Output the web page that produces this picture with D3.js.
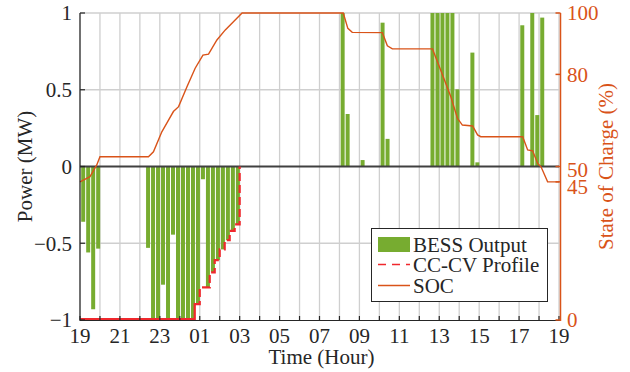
<!DOCTYPE html>
<html>
<head>
<meta charset="UTF-8">
<title>BESS output and SOC</title>
<script src="https://cdn.jsdelivr.net/npm/d3@7"></script>
<style>
  body { margin: 0; background: #fff; }
  text { font-family: "Liberation Serif", "Times New Roman", serif; }
</style>
</head>
<body>
<div id="chart"></div>
<script>
// hours counted from 19:00, one slot = 15 min
const tickHours = [0, 2, 4, 6, 8, 10, 12, 14, 16, 18, 20, 22, 24];
const tickLabels = ["19", "21", "23", "01", "03", "05", "07", "09", "11", "13", "15", "17", "19"];

// BESS output (MW), only slots that are not zero
const bessSlot = [0, 1, 2, 3, 13, 14, 15, 16, 17, 18, 19, 20, 21, 22, 23, 24, 25, 26, 27, 28, 29, 30, 31,
                  52, 53, 56, 60, 61, 70, 71, 72, 73, 74, 75, 78, 79, 88, 90, 91, 92];
const bessMW = [-0.36, -0.56, -0.93, -0.535, -0.53, -1, -1, -0.77, -1, -0.444, -1, -1, -1, -1, -0.896, -0.083,
                -0.787, -0.69, -0.61, -0.54, -0.48, -0.42, -0.377,
                1, 0.342, 0.042, 0.937, 0.18, 1, 1, 1, 1, 1, 0.503, 0.742, 0.027, 0.92, 1, 0.335, 0.97];

// CC-CV profile (MW), step values
const ccTime = [0, 5.75, 6.0, 6.5, 6.75, 7.0, 7.25, 7.5, 7.75, 8.0];
const ccMW = [-1, -0.896, -0.787, -0.69, -0.61, -0.54, -0.48, -0.42, -0.377, 0];

// state of charge (%)
const socTime = [0, 0.5, 0.84, 1.0, 3.43, 3.68, 4.10, 4.35, 4.68, 4.94, 5.36, 5.77, 6.16, 6.44, 6.86, 7.28, 7.70, 8.12,
                 13.19, 13.42, 13.64, 15.15, 15.40, 15.65, 17.66, 18.07, 18.58, 18.91, 19.16, 19.67, 19.92, 20.08,
                 22.18, 22.43, 22.68, 22.93, 23.1, 23.43, 24];
const socPct = [45, 46.7, 50.5, 53.2, 53.2, 54.8, 61.3, 64.1, 67.9, 69.5, 76.0, 82.0, 86.3, 86.6, 91.2, 94.5, 97.2, 100,
                100, 95.0, 93.7, 93.6, 89.3, 88.3, 88.3, 81.4, 72.7, 65.7, 63.5, 63.2, 60.3, 59.7,
                59.7, 55.4, 55.1, 51.0, 49.9, 45, 45];

const leftTicks = [-1, -0.5, 0, 0.5, 1];
const rightTicks = [0, 45, 50, 80, 100];

const width = 630, height = 372;
const pl = 80, pr = 559, pt = 13, pb = 320;
const green = "#77AC30", orange = "#D95319", red = "#F0282D", ink = "#262626";

const x = d3.scaleLinear().domain([0, 24]).range([pl, pr]);
const xb = d3.scaleBand().domain(d3.range(96)).range([pl + 0.7, pr + 0.7]).paddingInner(0.2).paddingOuter(0.1);
const y = d3.scaleLinear().domain([-1, 1]).range([pb, pt]);
const yr = d3.scaleLinear().domain([0, 100]).range([pb, pt]);

const svg = d3.select("#chart").append("svg")
  .attr("width", width).attr("height", height);

// grid
svg.append("g").selectAll("line").data(d3.range(0, 25))
  .join("line")
  .attr("x1", d => x(d)).attr("x2", d => x(d))
  .attr("y1", pt).attr("y2", pb)
  .attr("stroke", "#cfcfcf").attr("stroke-width", 1.3);
svg.append("g").selectAll("line").data([-0.5, 0.5, 1])
  .join("line")
  .attr("x1", pl).attr("x2", pr)
  .attr("y1", d => y(d)).attr("y2", d => y(d))
  .attr("stroke", "#cfcfcf").attr("stroke-width", 1.3);

// bars
svg.append("g").selectAll("rect").data(bessSlot)
  .join("rect")
  .attr("x", d => xb(d))
  .attr("width", xb.bandwidth())
  .attr("y", (d, i) => y(Math.max(0, bessMW[i])))
  .attr("height", (d, i) => Math.abs(y(bessMW[i]) - y(0)))
  .attr("fill", green);

// zero line
svg.append("line")
  .attr("x1", pl).attr("x2", pr)
  .attr("y1", y(0)).attr("y2", y(0))
  .attr("stroke", "#404040").attr("stroke-width", 2);

// CC-CV profile
const ccPts = ccTime.map((t, i) => [t, ccMW[i]]);
const stepLine = d3.line().x(d => x(d[0])).y(d => y(d[1])).curve(d3.curveStepAfter);
svg.append("path")
  .attr("d", stepLine(ccPts.slice(0, 2)))
  .attr("fill", "none").attr("stroke", red).attr("stroke-width", 2.2)
  .attr("transform", "translate(0,-1)");
svg.append("path")
  .attr("d", stepLine(ccPts.slice(1)))
  .attr("fill", "none").attr("stroke", red).attr("stroke-width", 2.2)
  .attr("stroke-dasharray", "8,4");

// SOC
svg.append("path")
  .attr("d", d3.line().x((t) => x(t)).y((t, i) => yr(socPct[i]))(socTime))
  .attr("fill", "none").attr("stroke", orange).attr("stroke-width", 1.4);

// bottom axis
const bx = svg.append("g");
bx.append("line").attr("x1", pl).attr("x2", pr + 1.5)
  .attr("y1", pb + 0.5).attr("y2", pb + 0.5).attr("stroke", ink).attr("stroke-width", 1.2);
bx.selectAll(".tk").data(d3.range(0, 25)).join("line")
  .attr("x1", d => x(d)).attr("x2", d => x(d))
  .attr("y1", pb).attr("y2", pb - 4)
  .attr("stroke", ink).attr("stroke-width", 1.2);
bx.selectAll("text").data(tickHours).join("text")
  .attr("x", d => x(d)).attr("y", 343)
  .attr("text-anchor", "middle").attr("font-size", 21).attr("fill", ink)
  .text((d, i) => tickLabels[i]);
svg.append("text")
  .attr("x", (pl + pr) / 2 + 2).attr("y", 364)
  .attr("text-anchor", "middle").attr("font-size", 21).attr("fill", ink)
  .text("Time (Hour)");

// left axis
const ly = svg.append("g");
ly.append("line").attr("x1", pl).attr("x2", pl)
  .attr("y1", pt).attr("y2", pb + 1).attr("stroke", ink).attr("stroke-width", 1.2);
ly.selectAll(".tk").data(leftTicks).join("line")
  .attr("x1", pl).attr("x2", pl + 5)
  .attr("y1", d => y(d)).attr("y2", d => y(d))
  .attr("stroke", ink).attr("stroke-width", 1.2);
ly.selectAll("text").data(leftTicks).join("text")
  .attr("x", 72).attr("y", d => y(d)).attr("dy", "0.35em")
  .attr("text-anchor", "end").attr("font-size", 21).attr("fill", ink)
  .text(d => d3.format("")(d).replace("-", "\u2212"));
svg.append("text")
  .attr("transform", `translate(32,${(pt + pb) / 2}) rotate(-90)`)
  .attr("text-anchor", "middle").attr("font-size", 21).attr("fill", ink)
  .text("Power (MW)");

// right axis
const ry = svg.append("g");
ry.append("line").attr("x1", pr + 1.5).attr("x2", pr + 1.5)
  .attr("y1", pt).attr("y2", pb + 1).attr("stroke", orange).attr("stroke-width", 1.5);
ry.selectAll(".tk").data(rightTicks).join("line")
  .attr("x1", pr + 1.5).attr("x2", pr - 3.5)
  .attr("y1", d => yr(d)).attr("y2", d => yr(d))
  .attr("stroke", orange).attr("stroke-width", 1.5);
// 50 and 45 sit close, nudge them apart like the original
const labelNudge = {45: 5, 50: 3};
ry.selectAll("text").data(rightTicks).join("text")
  .attr("x", 567).attr("y", d => yr(d) + (labelNudge[d] || 0)).attr("dy", "0.35em")
  .attr("font-size", 21).attr("fill", orange)
  .text(d => d);
svg.append("text")
  .attr("transform", `translate(613,${(pt + pb) / 2}) rotate(-90)`)
  .attr("text-anchor", "middle").attr("font-size", 21).attr("fill", orange)
  .text("State of Charge (%)");

// legend
const lg = svg.append("g");
lg.append("rect").attr("x", 371.5).attr("y", 228.5).attr("width", 176).attr("height", 73)
  .attr("fill", "#fff").attr("stroke", ink).attr("stroke-width", 1);
lg.append("rect").attr("x", 378).attr("y", 237).attr("width", 32).attr("height", 15).attr("fill", green);
lg.append("line").attr("x1", 378).attr("x2", 410).attr("y1", 264.5).attr("y2", 264.5)
  .attr("stroke", red).attr("stroke-width", 1.5).attr("stroke-dasharray", "8,6");
lg.append("line").attr("x1", 378).attr("x2", 410).attr("y1", 285.5).attr("y2", 285.5)
  .attr("stroke", orange).attr("stroke-width", 1.5);
lg.selectAll("text").data(["BESS Output", "CC-CV Profile", "SOC"]).join("text")
  .attr("x", 413).attr("y", (d, i) => 252 + i * 20.3)
  .attr("font-size", 21).attr("fill", ink)
  .text(d => d);
</script>
</body>
</html>
